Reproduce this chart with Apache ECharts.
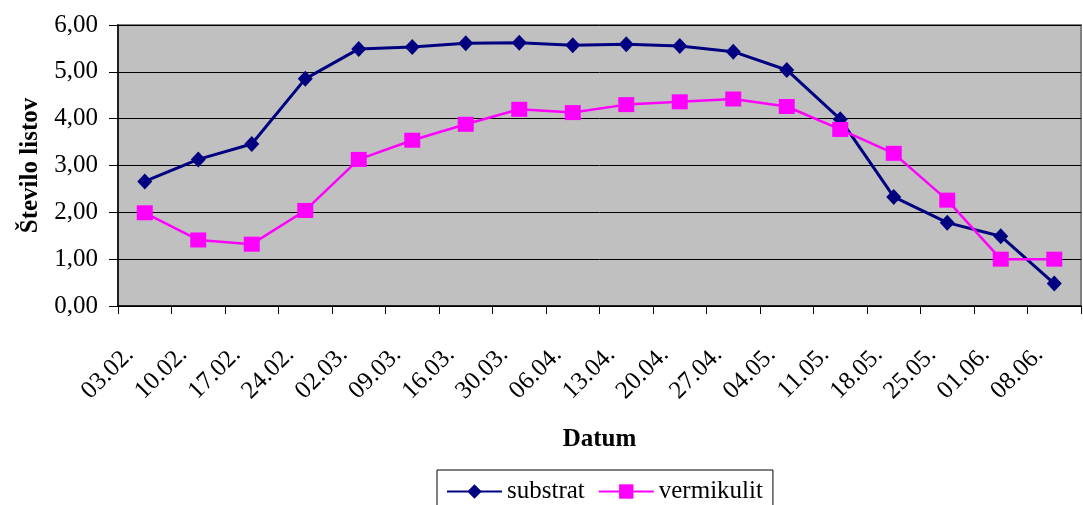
<!DOCTYPE html>
<html>
<head>
<meta charset="utf-8">
<title>Število listov</title>
<script src="https://cdn.jsdelivr.net/npm/echarts@6/dist/echarts.min.js"></script>
<style>
  html, body { margin: 0; padding: 0; background: #ffffff; }
  #chart { width: 1083px; height: 505px; }
</style>
</head>
<body>
<div id="chart"></div>
<script>
// Sampling dates
const dates = ['03.02.', '10.02.', '17.02.', '24.02.', '02.03.', '09.03.', '16.03.', '30.03.', '06.04.',
               '13.04.', '20.04.', '27.04.', '04.05.', '11.05.', '18.05.', '25.05.', '01.06.', '08.06.'];

// Mean number of leaves per plant
const substrat   = [2.66, 3.13, 3.46, 4.85, 5.49, 5.53, 5.61, 5.62, 5.57, 5.59, 5.55, 5.43, 5.04, 3.99, 2.33, 1.78, 1.49, 0.48];
const vermikulit = [1.99, 1.41, 1.32, 2.04, 3.13, 3.54, 3.88, 4.20, 4.13, 4.30, 4.36, 4.42, 4.26, 3.77, 3.26, 2.26, 1.00, 1.00];

const serif = '"Liberation Serif", "Times New Roman", serif';

const chart = echarts.init(document.getElementById('chart'), null, { renderer: 'canvas' });

chart.setOption({
  animation: false,
  textStyle: { fontFamily: serif, color: '#000' },
  grid: {
    left: 118, top: 25, right: 2, bottom: 199,
    containLabel: false,
    outerBoundsMode: 'none',
    show: true,
    backgroundColor: '#c0c0c0',
    borderColor: '#808080',
    borderWidth: 2
  },
  legend: {
    left: 437, top: 470,
    padding: [9, 10, 9, 9],
    itemGap: 13,
    itemWidth: 55,
    itemHeight: 18,
    borderColor: '#000',
    borderWidth: 1,
    textStyle: { fontFamily: serif, fontSize: 25, color: '#000' },
    data: ['substrat', 'vermikulit']
  },
  xAxis: {
    type: 'category',
    data: dates,
    boundaryGap: true,
    name: 'Datum',
    nameLocation: 'middle',
    nameGap: 121,
    nameMoveOverlap: false,
    nameTextStyle: { fontFamily: serif, fontSize: 25, fontWeight: 'bold', color: '#000' },
    axisLine: { lineStyle: { color: '#000', width: 1.5 } },
    axisTick: { show: true, length: 8, lineStyle: { color: '#000' } },
    axisLabel: {
      interval: 0, rotate: 45, margin: 30,
      padding: [0, 21, 0, 0],
      fontFamily: serif, fontSize: 25, color: '#000'
    },
    splitLine: { show: false }
  },
  yAxis: {
    type: 'value',
    min: 0, max: 6, interval: 1,
    name: 'Število listov',
    nameLocation: 'middle',
    nameGap: 75,
    nameRotate: 90,
    nameMoveOverlap: false,
    nameTextStyle: { fontFamily: serif, fontSize: 25, fontWeight: 'bold', color: '#000' },
    axisLine: { show: true, lineStyle: { color: '#000', width: 1.5 } },
    axisTick: { show: true, length: 9, lineStyle: { color: '#000' } },
    axisLabel: {
      margin: 20,
      fontFamily: serif, fontSize: 25, color: '#000',
      formatter: v => v.toFixed(2).replace('.', ',')
    },
    splitLine: { show: true, lineStyle: { color: '#000', width: 1 } }
  },
  series: [
    {
      name: 'substrat',
      type: 'line',
      data: substrat,
      symbol: 'diamond',
      symbolSize: [15, 16],
      color: '#000080',
      lineStyle: { color: '#000080', width: 3 },
      itemStyle: { color: '#000080' }
    },
    {
      name: 'vermikulit',
      type: 'line',
      data: vermikulit,
      symbol: 'rect',
      symbolSize: [16, 15],
      color: '#ff00ff',
      lineStyle: { color: '#ff00ff', width: 2.5 },
      itemStyle: { color: '#ff00ff' }
    }
  ]
});
</script>
</body>
</html>
